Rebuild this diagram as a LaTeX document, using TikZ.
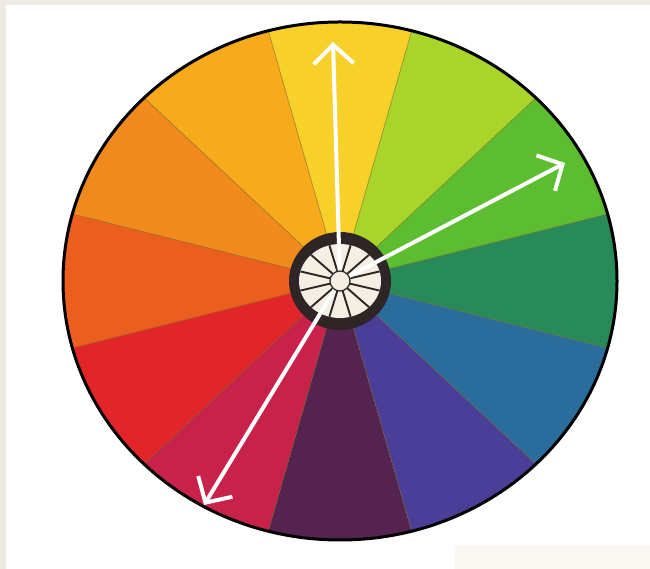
\documentclass[tikz,border=0pt]{standalone}
\usetikzlibrary{arrows.meta,calc}
\definecolor{bgbeige}{HTML}{EDEAE3}
\definecolor{patch}{HTML}{FBF8F3}
\definecolor{cA}{HTML}{F7D12A}
\definecolor{cB}{HTML}{F6AA1C}
\definecolor{cC}{HTML}{F08A1D}
\definecolor{cD}{HTML}{EC5E1E}
\definecolor{cE}{HTML}{E22528}
\definecolor{cF}{HTML}{C8214A}
\definecolor{cG}{HTML}{552350}
\definecolor{cH}{HTML}{4A3E98}
\definecolor{cI}{HTML}{2A6C9C}
\definecolor{cJ}{HTML}{278A58}
\definecolor{cK}{HTML}{5CBD31}
\definecolor{cL}{HTML}{A9D52B}
\definecolor{hubdark}{HTML}{2F2527}
\definecolor{hubcream}{HTML}{F3EFE3}
\definecolor{seam}{HTML}{7A6420}
\tikzset{
  pointer/.style={draw=white, line width=4pt,
    -{Straight Barb[length=19pt,width=40pt,line width=4pt]}},
  seamline/.style={draw=seam, line width=0.6pt, opacity=0.7},
  spoke/.style={draw=hubdark, line width=1.9pt},
}
\begin{document}
\begin{tikzpicture}[x=1pt,y=1pt]
\useasboundingbox (0,0) rectangle (650,569);
\fill[white] (0,0) rectangle (650,569);
\fill[bgbeige] (0,564) rectangle (650,569);
\fill[bgbeige] (0,0) rectangle (6,569);
\fill[patch] (455,0) rectangle (650,24);
\coordinate (C) at (340,288);
% sectors
\foreach \a/\col in {75/cA,105/cB,135/cC,165/cD,195/cE,225/cF,255/cG,285/cH,315/cI,345/cJ,15/cK,45/cL}{
  \fill[\col] (C) -- ++(\a:277 and 259) arc[start angle=\a, end angle=\a+30, x radius=277, y radius=259] -- cycle;
}
\foreach \a in {15,45,...,345}{
  \draw[seamline] (C) -- ++(\a:277 and 259);
}
\draw[black, line width=3pt] (C) ellipse[x radius=277, y radius=259];
% hub
\fill[hubdark] (C) ellipse[x radius=51, y radius=49];
\fill[hubcream] (C) ellipse[x radius=41, y radius=37];
\foreach \a in {15,45,...,345}{
  \draw[spoke] ($(C)+(\a:10 and 10)$) -- ($(C)+(\a:41 and 37)$);
}
% arrows
\coordinate (tipN) at (333,527);
\coordinate (tipE) at (565,406);
\coordinate (tipSW) at (204,64);
\draw[pointer] (C) -- (tipN);
\draw[pointer] (C) -- (tipE);
\draw[pointer] (C) -- (tipSW);
\node[circle, draw=hubdark, line width=1.2pt, fill=hubcream, minimum size=20pt, inner sep=0pt] (center) at (C) {};
\end{tikzpicture}
\end{document}
